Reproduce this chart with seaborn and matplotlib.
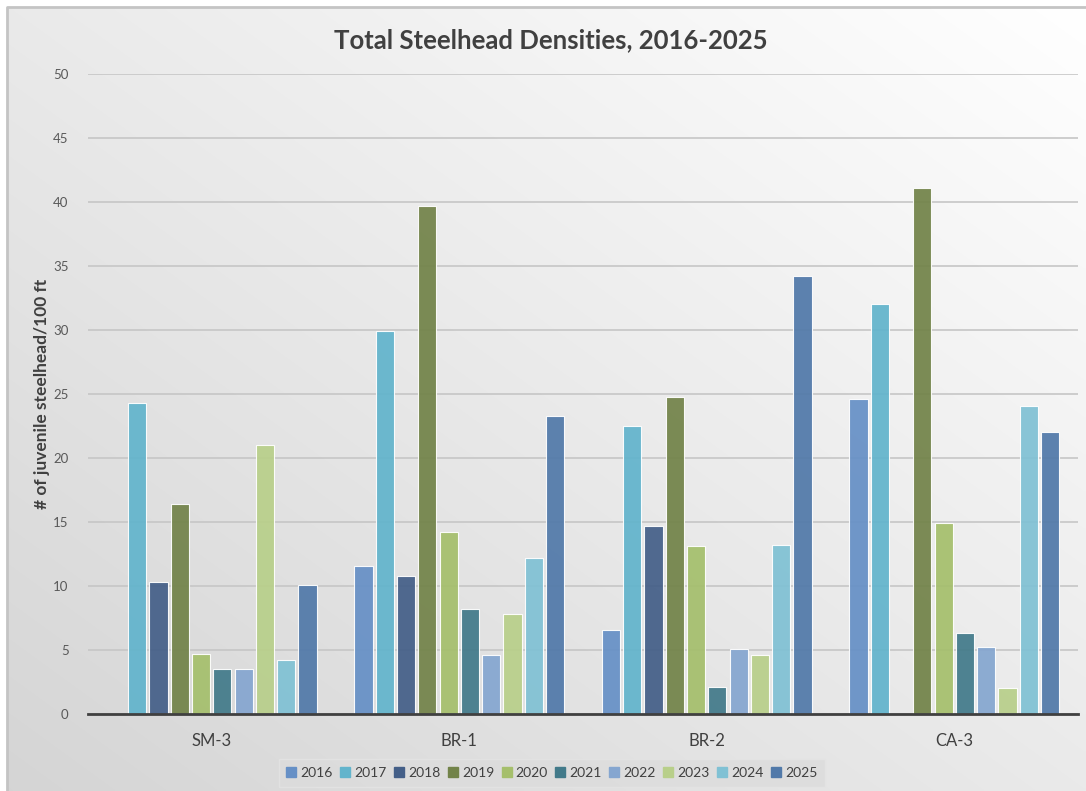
import numpy as np
import pandas as pd
import matplotlib
matplotlib.use("Agg")
import matplotlib.pyplot as plt
from matplotlib.lines import Line2D
import seaborn as sns

# Sampling sites and survey years
sites = ["SM-3", "BR-1", "BR-2", "CA-3"]
years = ["2016", "2017", "2018", "2019", "2020", "2021", "2022", "2023", "2024", "2025"]

# Juvenile steelhead per 100 ft, one list per site (None = not surveyed)
sm3 = [None, 24.3, 10.3, 16.4, 4.7, 3.5, 3.5, 21.0, 4.2, 10.1]
br1 = [11.6, 29.9, 10.8, 39.7, 14.2, 8.2, 4.6, 7.8, 12.2, 23.3]
br2 = [6.6, 22.5, 14.7, 24.8, 13.1, 2.1, 5.1, 4.6, 13.2, 34.2]
ca3 = [24.6, 32.0, None, 41.1, 14.9, 6.3, 5.2, 2.0, 24.1, 22.0]

year_colors = ["#6690C6", "#62B4CC", "#445F88", "#728349", "#A5BF6C",
               "#427A8A", "#85A6D0", "#B8CF8A", "#80C1D4", "#5179A9"]

rows = []
for site, vals in zip(sites, [sm3, br1, br2, ca3]):
    for yr, v in zip(years, vals):
        if v is not None:
            rows.append({"site": site, "year": yr, "density": v})
df = pd.DataFrame(rows)

sns.set_theme(style="white")
plt.rcParams["font.family"] = ["Lato", "DejaVu Sans"]

W, H = 1086, 791
fig = plt.figure(figsize=(W / 100, H / 100), dpi=100)
fig.patch.set_facecolor("white")

# Diagonal gradient background panel with grey frame on the left/top
bg = fig.add_axes([0, 0, 1, 1], zorder=-10)
bg.set_xlim(0, W)
bg.set_ylim(H, 0)
bg.axis("off")
gx, gy = np.meshgrid(np.linspace(0, 1, 300), np.linspace(0, 1, 300))
t = ((1 - gx) + gy) / 2.0  # 0 at top-right, 1 at bottom-left
top_c = np.array([1.0, 1.0, 1.0])
bot_c = np.array([0.835, 0.835, 0.835])
img = top_c[None, None, :] * (1 - t[..., None]) + bot_c[None, None, :] * t[..., None]
bg.imshow(img, extent=(7, W, H, 7), aspect="auto", interpolation="bilinear")
bg.plot([7, 7, W], [H, 7, 7], color="#c4c4c4", lw=2)

ax = fig.add_axes([88 / W, 1 - 714 / H, (1078 - 88) / W, (714 - 74) / H])
ax.set_facecolor("none")

sns.barplot(data=df, x="site", y="density", hue="year", order=sites,
            hue_order=years, palette=year_colors, saturation=1, width=0.86,
            gap=0.15, errorbar=None, alpha=0.93, edgecolor=(1, 1, 1, 0.5),
            linewidth=0.8, ax=ax, legend=False, zorder=3)

ax.set_ylim(0, 50)
ax.set_xlim(-0.5, 3.5)
ax.set_yticks(np.arange(0, 51, 5))
ax.yaxis.grid(True, color="#c6c6c6", lw=1.2, zorder=0)
ax.set_axisbelow(True)
for s in ["left", "right", "top"]:
    ax.spines[s].set_visible(False)
ax.spines["bottom"].set_color("#404040")
ax.spines["bottom"].set_linewidth(2)
ax.spines["bottom"].set_zorder(5)

ax.tick_params(axis="y", length=0, pad=14, labelsize=9.5, labelcolor="#595959")
ax.tick_params(axis="x", which="major", length=0, pad=14, labelsize=12, labelcolor="#404040")
ax.set_xticks(np.arange(-0.5, 3.6, 1.0), minor=True)
ax.tick_params(axis="x", which="minor", direction="inout", length=13, width=1.8, color="#404040")
ax.set_xlabel("")
ax.set_ylabel("# of juvenile steelhead/100 ft", fontsize=12.5, fontweight="bold",
              color="#404040", labelpad=2)

fig.text(551 / W, 1 - 40 / H, "Total Steelhead Densities, 2016-2025", ha="center",
         va="center", fontsize=18.5, fontweight="bold", color="#404040")

handles = [Line2D([], [], marker="s", linestyle="none", markersize=7,
                  markerfacecolor=c, markeredgecolor=c) for c in year_colors]
leg = fig.legend(handles, years, loc="center", bbox_to_anchor=(552 / W, 1 - 773 / H),
                 ncol=10, frameon=True, fontsize=10, handletextpad=0.3,
                 columnspacing=0.55, borderpad=0.55, handlelength=0.7)
leg.get_frame().set_facecolor("#dcdcdc")
leg.get_frame().set_edgecolor("#e4e4e4")
leg.get_frame().set_boxstyle("square", pad=0)
for txt in leg.get_texts():
    txt.set_color("#404040")

fig.savefig("out.png", dpi=100)
